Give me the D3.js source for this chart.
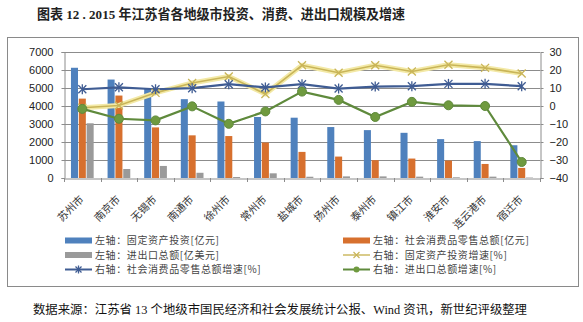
<!doctype html>
<html lang="zh">
  <head>
    <meta charset="utf-8">
    <title>2015年江苏省各地级市投资、消费、进出口规模及增速</title>
    <script src="https://d3js.org/d3.v7.min.js"></script>
    <style>
      body {
        margin: 0;
        background: #fff;
      }
      svg text {
        font-family: 'Noto Sans CJK SC', sans-serif;
      }
    </style>
  </head>
  <body>
    <div id="root"></div>
  </body>
  <script>

    //data:
    const cities = ['苏州市', '南京市', '无锡市', '南通市', '徐州市', '常州市', '盐城市',
                    '扬州市', '泰州市', '镇江市', '淮安市', '连云港市', '宿迁市'];
    const investment = [6124, 5470, 4950, 4380, 4250, 3390, 3350, 2830, 2660, 2510, 2160, 2050, 1820];  // 亿元
    const retail = [4410, 4580, 2810, 2370, 2330, 1970, 1450, 1190, 990, 1080, 970, 780, 560];          // 亿元
    const trade = [3040, 500, 670, 290, 55, 260, 70, 90, 90, 75, 40, 75, 25];                            // 亿美元
    const investGrowth = [-1.0, 0.3, 7.3, 12.8, 16.4, 6.7, 22.6, 18.5, 22.6, 19.2, 22.9, 21.2, 18.1];    // %
    const retailGrowth = [9.3, 10.4, 9.3, 9.9, 12.1, 10.3, 12.1, 9.7, 10.8, 11.0, 12.3, 12.3, 11.0];     // %
    const tradeGrowth = [-1.6, -7.1, -8.0, -0.2, -9.9, -3.0, 8.0, 3.4, -6.1, 2.3, 0.4, 0.0, -31.1];      // %
    const leftTicks = [0, 1000, 2000, 3000, 4000, 5000, 6000, 7000];
    const rightTicks = [-40, -30, -20, -10, 0, 10, 20, 30];

    const barSeries = [
      {name: '左轴：固定资产投资[亿元]', values: investment, color: '#4f81bd'},
      {name: '左轴：社会消费品零售总额[亿元]', values: retail, color: '#d7702e'},
      {name: '左轴：进出口总额[亿美元]', values: trade, color: '#9a9a9a'}
    ];

    const width = 583;
    const height = 322;
    const plot = {left: 64, right: 540, top: 52, bottom: 178};

    //scales:
    const x = d3.scaleBand()
      .domain(cities)
      .range([plot.left, plot.right]);

    const yLeft = d3.scaleLinear()
      .domain([0, 7000])
      .range([plot.bottom, plot.top]);

    const yRight = d3.scaleLinear()
      .domain([-40, 30])
      .range([plot.bottom, plot.top]);

    const groupWidth = x.bandwidth() * 0.62;
    const xInner = d3.scaleBand()
      .domain(d3.range(barSeries.length))
      .range([-groupWidth / 2, groupWidth / 2])
      .paddingInner(0.1);

    const cx = (i) => x(cities[i]) + x.bandwidth() / 2;

    //svg:
    const svg = d3.select('#root')
      .append('svg')
      .attr('width', width)
      .attr('height', height);

    svg.append('rect')
      .attr('width', width)
      .attr('height', height)
      .attr('fill', '#fff');

    svg.append('text')
      .attr('x', 37)
      .attr('y', 19)
      .attr('font-size', 13.5)
      .attr('font-weight', 'bold')
      .attr('fill', '#222')
      .attr('textLength', 368)
      .attr('lengthAdjust', 'spacingAndGlyphs')
      .style('font-family', "'Liberation Serif', 'Noto Sans CJK SC', serif")
      .text('图表 12 . 2015 年江苏省各地级市投资、消费、进出口规模及增速');

    svg.append('rect')
      .attr('x', 7.5)
      .attr('y', 37.5)
      .attr('width', 571)
      .attr('height', 249)
      .attr('fill', 'none')
      .attr('stroke', '#8a8a8a');

    //gridlines:
    svg.append('g')
      .selectAll('line')
      .data(leftTicks.slice(1))
      .join('line')
      .attr('x1', plot.left)
      .attr('x2', plot.right)
      .attr('y1', d => Math.round(yLeft(d)) + 0.5)
      .attr('y2', d => Math.round(yLeft(d)) + 0.5)
      .attr('stroke', '#8c8c8c');

    //bars:
    barSeries.forEach((s, k) => {
      svg.append('g')
        .selectAll('rect')
        .data(s.values)
        .join('rect')
        .attr('x', (d, i) => cx(i) + xInner(k))
        .attr('width', xInner.bandwidth())
        .attr('y', d => yLeft(d))
        .attr('height', d => plot.bottom - yLeft(d))
        .attr('fill', s.color);
    });

    //axes:
    const leftAxis = d3.axisLeft(yLeft)
      .tickValues(leftTicks)
      .tickFormat(d3.format('d'))
      .tickSize(3)
      .tickPadding(8);
    const rightAxis = d3.axisRight(yRight)
      .tickValues(rightTicks)
      .tickFormat(d3.format('d'))
      .tickSize(3)
      .tickPadding(6);
    const bottomAxis = d3.axisBottom(x).tickValues([]).tickSizeOuter(0);

    function styleAxis(g) {
      g.select('.domain').attr('stroke', '#8c8c8c');
      g.selectAll('.tick line').attr('stroke', '#8c8c8c');
      g.selectAll('.tick text')
        .attr('fill', '#222')
        .attr('font-size', 11)
        .style('font-family', "'Liberation Sans', Arial, sans-serif");
    }

    svg.append('g')
      .attr('transform', `translate(${plot.left + 0.5}, 0)`)
      .call(leftAxis)
      .call(styleAxis);

    svg.append('g')
      .attr('transform', `translate(${plot.right + 0.5}, 0)`)
      .call(rightAxis)
      .call(styleAxis);

    svg.append('g')
      .attr('transform', `translate(0, ${plot.bottom + 0.5})`)
      .call(bottomAxis)
      .call(styleAxis);

    // category boundary ticks under the x axis
    svg.append('g')
      .selectAll('line')
      .data(d3.range(cities.length + 1))
      .join('line')
      .attr('x1', i => Math.round(plot.left + i * x.step()) + 0.5)
      .attr('x2', i => Math.round(plot.left + i * x.step()) + 0.5)
      .attr('y1', plot.bottom)
      .attr('y2', plot.bottom + 4)
      .attr('stroke', '#8c8c8c');

    // rotated city names
    svg.append('g')
      .selectAll('text')
      .data(cities)
      .join('text')
      .attr('transform', (d, i) => `translate(${cx(i) + 2}, 200) rotate(-45)`)
      .attr('text-anchor', 'end')
      .attr('font-size', 10.5)
      .attr('fill', '#333')
      .text(d => d);

    //lines on the right axis:
    const line = d3.line()
      .x((d, i) => cx(i))
      .y(d => yRight(d));

    // fixed asset investment growth, pale glow underneath
    svg.append('path')
      .datum(investGrowth)
      .attr('d', line)
      .attr('fill', 'none')
      .attr('stroke', '#f3e9a6')
      .attr('stroke-width', 5)
      .attr('stroke-linejoin', 'round');

    svg.append('path')
      .datum(investGrowth)
      .attr('d', line)
      .attr('fill', 'none')
      .attr('stroke', '#c9b558')
      .attr('stroke-width', 1.6);

    svg.append('path')
      .datum(retailGrowth)
      .attr('d', line)
      .attr('fill', 'none')
      .attr('stroke', '#3f5c93')
      .attr('stroke-width', 2.2);

    svg.append('path')
      .datum(tradeGrowth)
      .attr('d', line)
      .attr('fill', 'none')
      .attr('stroke', '#5f8a3c')
      .attr('stroke-width', 2.2);

    // markers
    function xMarker(g, size, color, w) {
      g.append('path')
        .attr('d', `M${-size},${-size}L${size},${size}M${-size},${size}L${size},${-size}`)
        .attr('stroke', color)
        .attr('stroke-width', w);
    }

    function starMarker(g, size, color) {
      xMarker(g, size, color, 1.3);
      g.append('path')
        .attr('d', `M0,${-size - 1}L0,${size + 1}`)
        .attr('stroke', color)
        .attr('stroke-width', 1.3);
    }

    svg.append('g')
      .selectAll('g')
      .data(investGrowth)
      .join('g')
      .attr('transform', (d, i) => `translate(${cx(i)}, ${yRight(d)})`)
      .each(function() { xMarker(d3.select(this), 4, '#c9b558', 1.3); });

    svg.append('g')
      .selectAll('g')
      .data(retailGrowth)
      .join('g')
      .attr('transform', (d, i) => `translate(${cx(i)}, ${yRight(d)})`)
      .each(function() { starMarker(d3.select(this), 4, '#3f5c93'); });

    svg.append('g')
      .selectAll('circle')
      .data(tradeGrowth)
      .join('circle')
      .attr('cx', (d, i) => cx(i))
      .attr('cy', d => yRight(d))
      .attr('r', 4.5)
      .attr('fill', '#6f9a3f')
      .attr('stroke', '#5f8a3c');

    //legend:
    const legendItems = [
      {name: barSeries[0].name, type: 'bar', color: barSeries[0].color, col: 0, row: 0},
      {name: barSeries[1].name, type: 'bar', color: barSeries[1].color, col: 1, row: 0},
      {name: barSeries[2].name, type: 'bar', color: barSeries[2].color, col: 0, row: 1},
      {name: '右轴：固定资产投资增速[%]', type: 'x', color: '#c9b558', col: 1, row: 1},
      {name: '右轴：社会消费品零售总额增速[%]', type: 'star', color: '#3f5c93', col: 0, row: 2},
      {name: '右轴：进出口总额增速[%]', type: 'dot', color: '#5f8a3c', col: 1, row: 2}
    ];
    const legendCols = [65, 343];
    const legendRows = [240.5, 255, 269.5];

    const legend = svg.append('g')
      .selectAll('g')
      .data(legendItems)
      .join('g')
      .attr('transform', d => `translate(${legendCols[d.col]}, ${legendRows[d.row]})`);

    legend.each(function(d) {
      const g = d3.select(this);
      if (d.type === 'bar') {
        g.append('rect')
          .attr('x', 0)
          .attr('y', -3)
          .attr('width', 27)
          .attr('height', 6)
          .attr('fill', d.color);
      } else {
        g.append('line')
          .attr('x1', 0)
          .attr('x2', 27)
          .attr('stroke', d.color)
          .attr('stroke-width', d.type === 'x' ? 1.4 : 2);
        const m = g.append('g').attr('transform', 'translate(13.5, 0)');
        if (d.type === 'x') xMarker(m, 3, d.color, 1.2);
        if (d.type === 'star') starMarker(m, 3, d.color);
        if (d.type === 'dot') m.append('circle').attr('r', 3).attr('fill', '#6f9a3f');
      }
      g.append('text')
        .attr('x', 30)
        .attr('y', 3.5)
        .attr('font-size', 10)
        .attr('letter-spacing', 0.6)
        .attr('fill', '#444')
        .text(d.name);
    });

    svg.append('text')
      .attr('x', 33)
      .attr('y', 314)
      .attr('font-size', 12)
      .attr('fill', '#111')
      .attr('textLength', 494)
      .attr('lengthAdjust', 'spacingAndGlyphs')
      .style('font-family', "'Liberation Serif', 'Noto Sans CJK SC', serif")
      .text('数据来源：江苏省 13 个地级市国民经济和社会发展统计公报、Wind 资讯，新世纪评级整理');

  </script>
</html>
